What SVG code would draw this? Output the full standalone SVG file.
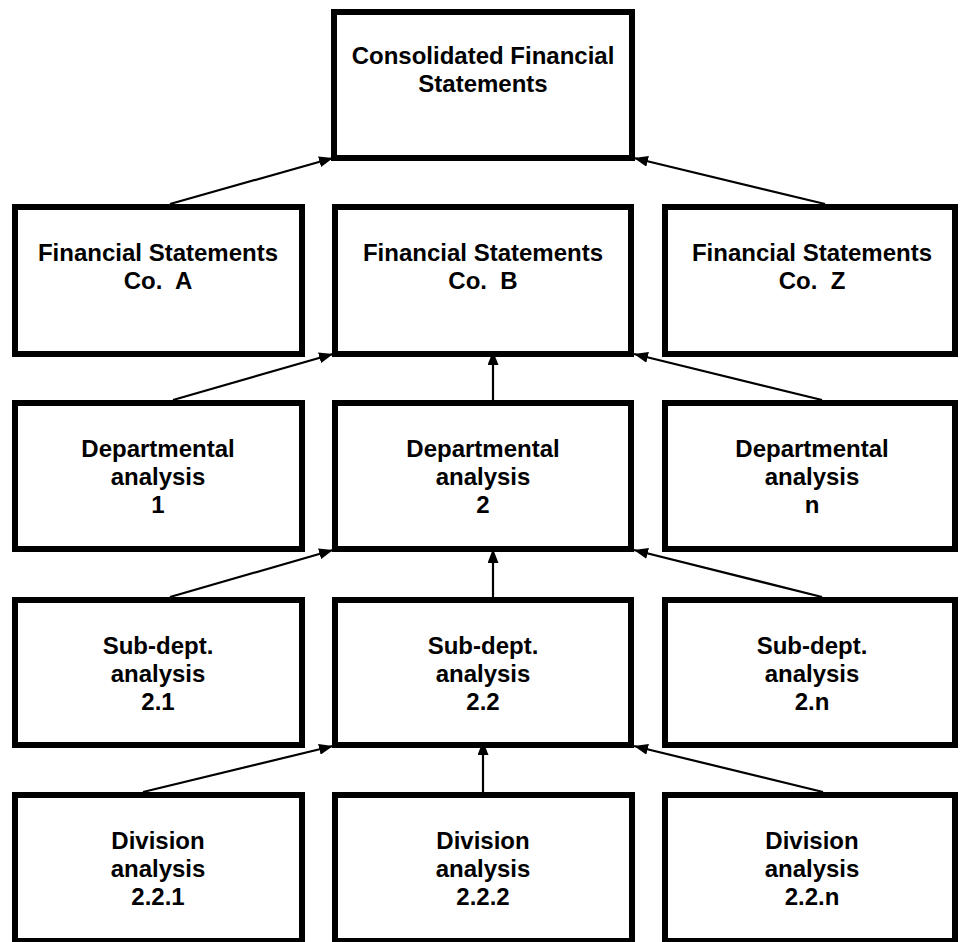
<svg xmlns="http://www.w3.org/2000/svg" width="960" height="942" viewBox="0 0 960 942">
<style>
.box{fill:#fff;stroke:#000;stroke-width:6}
.lbl{font-family:"Liberation Sans",Arial,sans-serif;font-weight:bold;font-size:24px;text-anchor:middle;fill:#000;white-space:pre}
.conn{stroke:#000;stroke-width:2.2;fill:none;marker-end:url(#ah)}
</style>
<defs>
<marker id="ah" viewBox="0 0 14 11" refX="14" refY="5.5" markerWidth="14" markerHeight="11" markerUnits="userSpaceOnUse" orient="auto">
<path d="M0,0 L14,5.5 L0,11 Z" fill="#000"/>
</marker>
</defs>
<rect width="960" height="942" fill="#fff"/>
<g id="connectors">
<line class="conn" x1="170" y1="204" x2="333" y2="158"/>
<line class="conn" x1="825" y1="204" x2="634" y2="158"/>
<line class="conn" x1="173" y1="400" x2="333" y2="354"/>
<line class="conn" x1="493" y1="400" x2="493" y2="351"/>
<line class="conn" x1="822" y1="400" x2="634" y2="354"/>
<line class="conn" x1="170" y1="597" x2="333" y2="550"/>
<line class="conn" x1="493" y1="597" x2="493" y2="549"/>
<line class="conn" x1="822" y1="597" x2="634" y2="550"/>
<line class="conn" x1="143" y1="792" x2="333" y2="746"/>
<line class="conn" x1="483" y1="792" x2="483" y2="741"/>
<line class="conn" x1="823" y1="792" x2="634" y2="746"/>
</g>
<g id="consolidated">
<rect class="box" x="334" y="12" width="298" height="146"/>
<text class="lbl" x="483" y="64">Consolidated Financial</text>
<text class="lbl" x="483" y="92">Statements</text>
</g>
<g id="fs-a">
<rect class="box" x="15" y="207" width="287" height="147"/>
<text class="lbl" x="158" y="261">Financial Statements</text>
<text class="lbl" x="158" y="289" xml:space="preserve">Co.  A</text>
</g>
<g id="fs-b">
<rect class="box" x="335" y="207" width="296" height="147"/>
<text class="lbl" x="483" y="261">Financial Statements</text>
<text class="lbl" x="483" y="289" xml:space="preserve">Co.  B</text>
</g>
<g id="fs-z">
<rect class="box" x="665" y="207" width="290" height="147"/>
<text class="lbl" x="812" y="261">Financial Statements</text>
<text class="lbl" x="812" y="289" xml:space="preserve">Co.  Z</text>
</g>
<g id="dept-1">
<rect class="box" x="15" y="403" width="287" height="146"/>
<text class="lbl" x="158" y="457">Departmental</text>
<text class="lbl" x="158" y="485">analysis</text>
<text class="lbl" x="158" y="513">1</text>
</g>
<g id="dept-2">
<rect class="box" x="335" y="403" width="296" height="146"/>
<text class="lbl" x="483" y="457">Departmental</text>
<text class="lbl" x="483" y="485">analysis</text>
<text class="lbl" x="483" y="513">2</text>
</g>
<g id="dept-n">
<rect class="box" x="665" y="403" width="290" height="146"/>
<text class="lbl" x="812" y="457">Departmental</text>
<text class="lbl" x="812" y="485">analysis</text>
<text class="lbl" x="812" y="513">n</text>
</g>
<g id="sub-2-1">
<rect class="box" x="15" y="600" width="287" height="145"/>
<text class="lbl" x="158" y="654">Sub-dept.</text>
<text class="lbl" x="158" y="682">analysis</text>
<text class="lbl" x="158" y="710">2.1</text>
</g>
<g id="sub-2-2">
<rect class="box" x="335" y="600" width="296" height="145"/>
<text class="lbl" x="483" y="654">Sub-dept.</text>
<text class="lbl" x="483" y="682">analysis</text>
<text class="lbl" x="483" y="710">2.2</text>
</g>
<g id="sub-2-n">
<rect class="box" x="665" y="600" width="290" height="145"/>
<text class="lbl" x="812" y="654">Sub-dept.</text>
<text class="lbl" x="812" y="682">analysis</text>
<text class="lbl" x="812" y="710">2.n</text>
</g>
<g id="div-2-2-1">
<rect class="box" x="15" y="795" width="287" height="146"/>
<text class="lbl" x="158" y="849">Division</text>
<text class="lbl" x="158" y="877">analysis</text>
<text class="lbl" x="158" y="905">2.2.1</text>
</g>
<g id="div-2-2-2">
<rect class="box" x="335" y="795" width="297" height="146"/>
<text class="lbl" x="483" y="849">Division</text>
<text class="lbl" x="483" y="877">analysis</text>
<text class="lbl" x="483" y="905">2.2.2</text>
</g>
<g id="div-2-2-n">
<rect class="box" x="665" y="795" width="290" height="146"/>
<text class="lbl" x="812" y="849">Division</text>
<text class="lbl" x="812" y="877">analysis</text>
<text class="lbl" x="812" y="905">2.2.n</text>
</g>
</svg>
